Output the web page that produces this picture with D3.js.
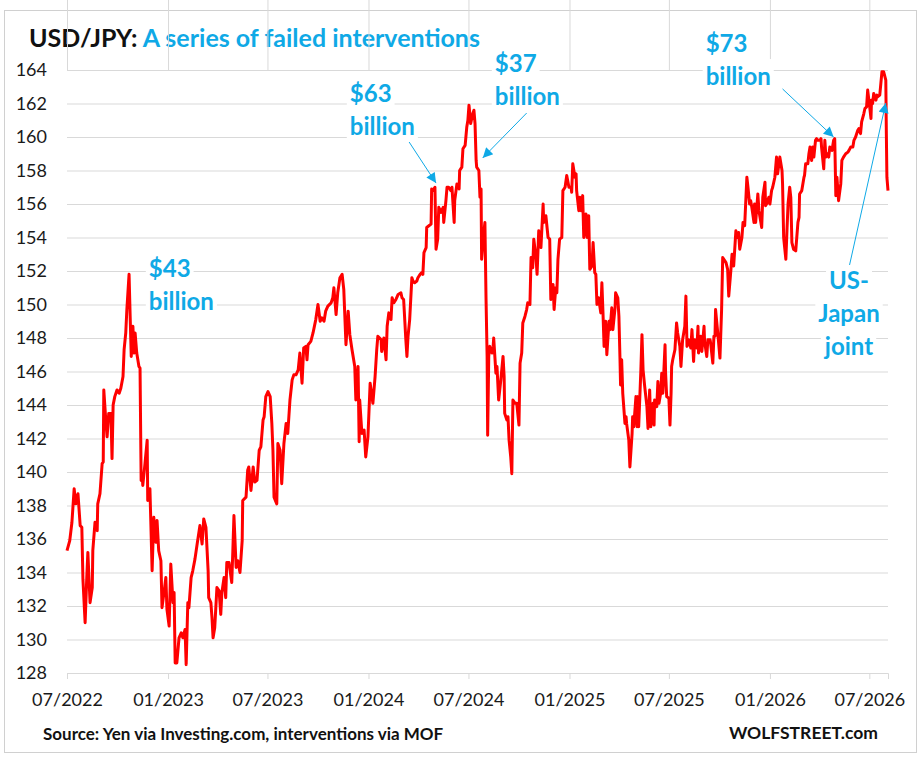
<!DOCTYPE html>
<html>
<head>
<meta charset="utf-8">
<script src="https://cdn.jsdelivr.net/npm/d3@7"></script>
<style>
  body { margin: 0; background: #fff; }
  text { font-family: Lato, "Open Sans", sans-serif; }
</style>
</head>
<body>
<div class="chart"></div>
<script>
// USD/JPY, days counted from 2022-07-01
const startDate = new Date(2022, 6, 1)
const lastDay = 1495

const usdJpy = [
  [0,135.3],[5,135.9],[9,137.0],[13,139.0],[16,138.1],[20,138.7],[24,136.8],[27,136.7],[29,133.6],[33,131.0],
  [36,133.7],[38,135.2],[42,132.2],[46,133.1],[47,135.3],[51,137.0],[55,136.5],[56,138.1],[60,138.7],[64,140.5],
  [66,140.6],[67,144.9],[71,142.9],[73,142.1],[76,143.5],[80,143.5],[82,140.8],[84,144.0],[87,144.5],[91,144.9],
  [95,144.7],[98,145.0],[102,145.7],[104,147.3],[107,148.3],[109,149.7],[113,151.8],[115,149.3],[117,146.9],[120,148.7],
  [122,147.1],[124,148.3],[127,147.1],[131,146.3],[133,146.2],[135,139.5],[137,139.9],[138,139.2],[142,140.5],[146,141.9],
  [147,138.3],[151,139.0],[155,134.1],[158,137.3],[162,135.8],[164,137.1],[167,135.3],[171,134.7],[173,131.9],[177,132.9],
  [180,133.7],[182,131.8],[186,130.8],[189,134.5],[193,132.2],[195,132.8],[197,128.6],[200,128.6],[204,130.1],[208,130.4],
  [211,130.1],[215,130.6],[217,128.5],[220,132.2],[222,131.9],[226,133.7],[229,134.1],[233,134.8],[237,135.7],
  [242,136.8],[246,135.7],[249,137.2],[253,136.7],[257,134.1],[258,132.5],[262,132.2],[264,131.3],[266,130.1],[269,130.7],
  [273,133.1],[277,132.9],[280,131.5],[282,132.8],[286,133.7],[289,132.5],[291,134.6],[295,134.6],[300,133.4],[302,135.3],
  [304,137.4],[308,134.3],[311,134.7],[315,134.0],[319,135.9],[320,138.3],[326,138.5],[329,140.1],[331,140.3],[335,138.9],
  [339,140.3],[342,139.4],[346,139.5],[350,141.3],[353,141.5],[357,143.1],[359,143.3],[362,144.5],[366,144.8],[370,144.5],
  [373,142.9],[375,141.3],[377,138.5],[382,138.1],[384,141.7],[388,141.3],[391,139.3],[395,141.7],[399,142.9],[402,142.3],
  [406,144.3],[410,145.5],[413,145.8],[417,145.8],[421,146.1],[424,147.1],[428,145.3],[431,147.4],[435,147.5],[437,146.7],
  [439,147.6],[444,147.8],[448,148.3],[453,149.1],[457,150.0],[461,149.0],[464,149.2],[468,149.0],[471,149.6],[475,149.9],
  [481,150.1],[484,150.4],[486,151.0],[490,149.4],[493,150.7],[497,151.6],[501,151.8],[504,150.9],[508,147.6],[512,149.6],
  [515,148.2],[519,147.3],[522,146.7],[524,146.3],[526,144.3],[530,146.3],[532,141.8],[533,144.3],[537,142.3],[541,142.5],
  [544,140.9],[548,142.1],[552,145.3],
  [557,144.1],[561,145.7],[564,147.3],[566,148.1],[572,147.9],[573,147.2],[577,148.0],[581,146.7],[583,148.7],[586,149.5],
  [590,149.1],[592,150.4],[595,150.1],[599,150.3],[603,150.6],[608,150.7],[610,150.4],[613,150.3],[617,147.9],[619,146.9],
  [621,148.1],[624,149.1],[628,151.6],[630,151.4],[633,151.3],[637,151.4],[639,151.6],[643,151.8],[646,151.9],[648,151.8],
  [650,153.1],[654,153.4],[655,154.6],[659,154.7],[663,154.8],[664,156.9],[666,156.8],[670,157.0],[672,153.3],[675,153.9],
  [677,155.8],[681,155.5],[685,155.8],[686,154.9],[690,156.2],[692,157.0],[695,157.0],[699,156.8],[701,157.0],[705,154.9],
  [706,156.2],[710,157.2],[714,156.9],[715,158.0],[719,158.2],[721,159.3],[725,159.5],[728,160.6],[730,161.0],[732,161.9],
  [734,161.2],[735,160.8],[739,161.4],[741,161.6],[743,160.8],[745,158.6],[746,158.2],[750,158.0],[752,156.4],[754,156.9],
  [755,152.7],[759,154.3],[761,154.9],[763,150.4],[765,146.9],[766,142.2],[768,146.9],[770,147.5],[774,147.1],[776,147.5],
  [777,148.0],[781,145.9],[783,146.3],[786,144.3],[790,145.5],[794,146.9],[796,145.7],[797,143.5],[801,143.1],[803,143.3],
  [805,141.9],[808,140.9],[810,139.9],[812,144.3],[816,144.1],[819,144.1],[823,142.8],[825,146.5],[828,147.1],[830,148.9],
  [834,149.3],[837,149.7],[839,150.1],[843,150.0],[845,152.8],[848,152.2],[850,153.9],[854,152.8],[856,151.8],[859,154.4],
  [863,153.4],[867,156.0],[868,154.9],[872,155.3],[876,154.0],[879,153.9],
  [881,150.3],[885,151.2],[887,149.7],[890,151.0],[892,150.7],[894,152.7],[897,153.9],[901,154.0],[903,156.8],[907,157.0],
  [910,157.7],[914,157.0],[918,157.0],[919,156.7],[921,158.4],[925,157.6],[927,157.8],[928,156.8],[932,155.6],[934,156.4],
  [936,155.6],[939,156.5],[941,154.0],[945,155.4],[947,154.0],[950,155.3],[952,152.1],[956,152.3],[958,153.7],[961,151.9],
  [963,151.8],[965,150.0],[968,150.4],[972,149.5],[974,151.3],[976,149.5],[978,147.5],[981,149.0],[983,147.0],[987,149.0],
  [989,148.5],[992,149.8],[994,148.5],[998,149.8],[999,150.7],[1003,150.4],[1005,149.3],[1007,146.7],[1008,145.2],[1010,146.7],
  [1012,144.7],[1016,142.9],[1018,143.3],[1019,142.9],[1023,141.9],[1025,140.3],[1029,142.3],[1030,143.3],[1032,142.7],[1036,144.5],
  [1038,142.7],[1039,144.5],[1041,142.7],[1045,146.1],[1047,148.2],[1049,146.1],[1052,145.1],[1056,143.9],[1058,142.6],[1059,143.3],
  [1061,144.9],[1063,142.7],[1067,144.1],[1069,142.8],[1070,144.3],[1074,143.9],[1076,145.4],[1078,144.1],[1081,144.7],[1083,145.9],
  [1085,144.7],[1089,147.6],[1090,145.9],[1092,144.5],[1096,144.4],[1098,142.8],[1100,144.7],[1101,146.3],[1103,146.7],[1107,147.3],
  [1110,148.9],[1112,148.3],[1116,147.5],[1118,146.3],[1121,147.9],[1125,148.7],[1127,150.5],[1129,147.5],[1132,147.9],[1136,147.4],
  [1138,148.5],[1141,146.6],[1143,147.9],[1147,147.4],[1149,148.7],[1150,147.1],[1154,148.1],[1156,147.2],[1160,148.7],[1161,147.8],
  [1165,146.9],[1167,147.9],[1171,147.9],[1172,147.7],[1176,146.5],[1178,148.1],[1180,148.1],
  [1181,149.7],[1185,148.3],[1189,146.8],[1192,149.7],[1194,152.8],[1200,152.5],[1203,152.1],[1205,150.5],[1209,152.1],[1211,153.0],
  [1214,152.3],[1218,154.4],[1220,154.0],[1223,154.3],[1225,153.3],[1229,154.0],[1231,154.9],[1234,154.7],[1238,157.6],[1240,157.0],
  [1243,156.0],[1245,156.2],[1247,155.8],[1251,154.9],[1252,156.0],[1254,154.9],[1258,156.6],[1260,155.6],[1262,155.2],[1265,154.6],
  [1267,156.4],[1271,157.3],[1272,155.9],[1274,156.0],[1278,156.4],[1280,156.0],[1283,156.8],[1285,157.0],[1289,157.6],[1292,158.8],
  [1294,157.8],[1298,158.8],[1302,158.0],[1303,157.2],[1305,154.0],[1309,152.7],[1311,154.4],[1313,156.0],[1316,157.0],[1318,156.4],
  [1320,153.7],[1323,153.3],[1327,153.2],[1331,154.9],[1333,155.2],[1334,156.6],[1338,156.8],[1342,157.6],[1343,157.7],[1345,158.4],
  [1349,158.4],[1351,159.0],[1353,159.4],[1356,158.6],[1358,159.4],[1360,158.8],[1363,159.8],[1365,159.9],[1367,159.8],[1371,159.8],
  [1373,159.9],[1374,159.4],[1378,158.1],[1380,159.8],[1382,158.8],[1385,159.0],[1387,158.8],[1389,159.4],[1393,159.2],[1396,159.8],
  [1398,159.9],[1400,156.5],[1402,157.6],[1405,156.2],[1409,157.2],[1411,158.6],[1414,158.8],[1418,159.0],[1422,159.1],[1424,159.2],
  [1427,159.4],[1431,159.4],[1433,159.8],[1436,160.0],[1440,160.4],[1442,160.5],[1445,160.2],[1447,160.9],[1451,161.4],[1453,161.7],
  [1456,161.8],[1458,162.8],[1462,161.7],[1464,161.1],[1465,162.2],[1467,162.0],[1469,162.6],[1473,162.2],[1475,162.5],[1476,162.4],
  [1480,162.5],[1482,163.2],[1484,163.9],[1487,163.9],[1491,163.4],[1492,160.2],[1493,157.6],[1495,156.8]
]

const yTicks = [128, 130, 132, 134, 136, 138, 140, 142, 144, 146, 148, 150, 152, 154, 156, 158, 160, 162, 164]
const xTickDates = ["2022-07-01", "2023-01-01", "2023-07-01", "2024-01-01", "2024-07-01",
  "2025-01-01", "2025-07-01", "2026-01-01", "2026-07-01"]
const xTickLabels = ["07/2022", "01/2023", "07/2023", "01/2024", "07/2024",
  "01/2025", "07/2025", "01/2026", "07/2026"]

// intervention call-outs, placed in data units (day, rate)
const callouts = [
  {lines: ["$43", "billion"], day: 149, rate: 151.64, anchor: "start"},
  {lines: ["$63", "billion"], day: 515, rate: 162.09, anchor: "start", from: [623, 159.7], to: [672, 157.25]},
  {lines: ["$37", "billion"], day: 779, rate: 163.88, anchor: "start", from: [837, 161.43], to: [757, 158.75]},
  {lines: ["$73", "billion"], day: 1163, rate: 165.07, anchor: "start", from: [1303, 162.87], to: [1396, 160.0]},
  {lines: ["US-", "Japan", "joint"], day: 1424, rate: 150.93, anchor: "middle", from: [1425, 152.36], to: [1491, 162.03]}
]

const blue = "#0fa9e6"
const grey = "#d9d9d9"

let outerWidth = 922
let outerHeight = 760
let margin = {top: 70, bottom: 87, left: 67, right: 34}
let width = outerWidth - margin.left - margin.right
let height = outerHeight - margin.top - margin.bottom

let root = d3.select(".chart")
    .append("svg")
    .attr("width", outerWidth)
    .attr("height", outerHeight)

// outer frame
root.append("rect")
    .attr("x", 4.5)
    .attr("y", 10.5)
    .attr("width", 912)
    .attr("height", 742)
    .attr("fill", "#fff")
    .attr("stroke", "#d0d0d0")

let defs = root.append("defs")
defs.append("marker")
    .attr("id", "head")
    .attr("viewBox", "0 0 10 10")
    .attr("refX", 10)
    .attr("refY", 5)
    .attr("markerWidth", 12)
    .attr("markerHeight", 10)
    .attr("markerUnits", "userSpaceOnUse")
    .attr("orient", "auto")
    .append("path")
    .attr("d", "M0,0 L10,5 L0,10 z")
    .attr("fill", blue)

// title
let title = root.append("text")
    .attr("x", 29)
    .attr("y", 47)
    .attr("font-size", "25px")
    .attr("font-weight", "bold")
title.append("tspan").attr("fill", "#111").text("USD/JPY:")
title.append("tspan").attr("fill", blue).text(" A series of failed interventions")

let svg = root.append("g")
    .attr("transform", `translate(${margin.left}, ${margin.top})`)

let data = usdJpy.map(d => ({date: d3.timeDay.offset(startDate, d[0]), rate: d[1]}))
let tickDates = xTickDates.map(d => d3.timeParse("%Y-%m-%d")(d))

let xScale = d3.scaleTime()
    .domain([startDate, d3.timeDay.offset(startDate, lastDay)])
    .range([0, width])

let yScale = d3.scaleLinear()
    .domain([128, 164])
    .range([height, 0])

// horizontal gridlines + y labels
svg.append("g")
    .attr("class", "axis y-axis")
    .call(d3.axisLeft(yScale).tickValues(yTicks).tickSize(-width).tickPadding(20))
    .call(g => g.select(".domain").remove())
    .call(g => g.selectAll("line").attr("stroke", grey))
    .call(g => g.selectAll("text")
        .attr("font-family", "Lato, sans-serif")
        .attr("font-size", "18px")
        .attr("fill", "#1a1a1a"))

// vertical gridlines
svg.append("g")
    .attr("class", "grid x-grid")
    .call(d3.axisBottom(xScale).tickValues(tickDates).tickSize(-height).tickFormat(""))
    .call(g => g.select(".domain").remove())
    .call(g => g.selectAll("line").attr("stroke", grey))

// x axis with short ticks
svg.append("g")
    .attr("class", "axis x-axis")
    .attr("transform", `translate(0, ${height})`)
    .call(d3.axisBottom(xScale).tickValues(tickDates).tickSize(6).tickPadding(14)
        .tickFormat((d, i) => xTickLabels[i]))
    .call(g => g.select(".domain").attr("stroke", grey))
    .call(g => g.selectAll("line").attr("stroke", grey))
    .call(g => g.selectAll("text")
        .attr("font-family", "Lato, sans-serif")
        .attr("font-size", "18px")
        .attr("fill", "#1a1a1a"))

let labelBack = svg.append("g").attr("class", "label-back")

// the rate line
let line = d3.line()
    .x(d => xScale(d.date))
    .y(d => yScale(d.rate))

svg.append("path")
    .datum(data)
    .attr("fill", "none")
    .attr("stroke", "#ff0000")
    .attr("stroke-width", 3)
    .attr("stroke-linejoin", "round")
    .attr("d", line)

// call-outs
let lineGap = 33
callouts.forEach(c => {
    let cx = xScale(d3.timeDay.offset(startDate, c.day))
    let cy = yScale(c.rate)
    c.lines.forEach((txt, i) => {
        let t = svg.append("text")
            .attr("x", cx)
            .attr("y", cy + i * lineGap)
            .attr("text-anchor", c.anchor)
            .attr("font-size", "24px")
            .attr("font-weight", "bold")
            .attr("fill", blue)
            .text(txt)
        let b = t.node().getBBox()
        labelBack.append("rect")
            .attr("x", b.x - 3)
            .attr("y", b.y - 2)
            .attr("width", b.width + 6)
            .attr("height", b.height + 4)
            .attr("fill", "#fff")
    })
    if (c.from) {
        svg.append("line")
            .attr("x1", xScale(d3.timeDay.offset(startDate, c.from[0])))
            .attr("y1", yScale(c.from[1]))
            .attr("x2", xScale(d3.timeDay.offset(startDate, c.to[0])))
            .attr("y2", yScale(c.to[1]))
            .attr("stroke", blue)
            .attr("stroke-width", 1)
            .attr("marker-end", "url(#head)")
    }
})

// footer
root.append("text")
    .attr("x", 43)
    .attr("y", 740)
    .attr("font-size", "17px")
    .attr("font-weight", "bold")
    .attr("fill", "#111")
    .text("Source: Yen via Investing.com, interventions via MOF")

root.append("text")
    .attr("x", 878)
    .attr("y", 739)
    .attr("text-anchor", "end")
    .attr("font-size", "17.5px")
    .attr("font-weight", "bold")
    .attr("fill", "#111")
    .text("WOLFSTREET.com")
</script>
</body>
</html>
